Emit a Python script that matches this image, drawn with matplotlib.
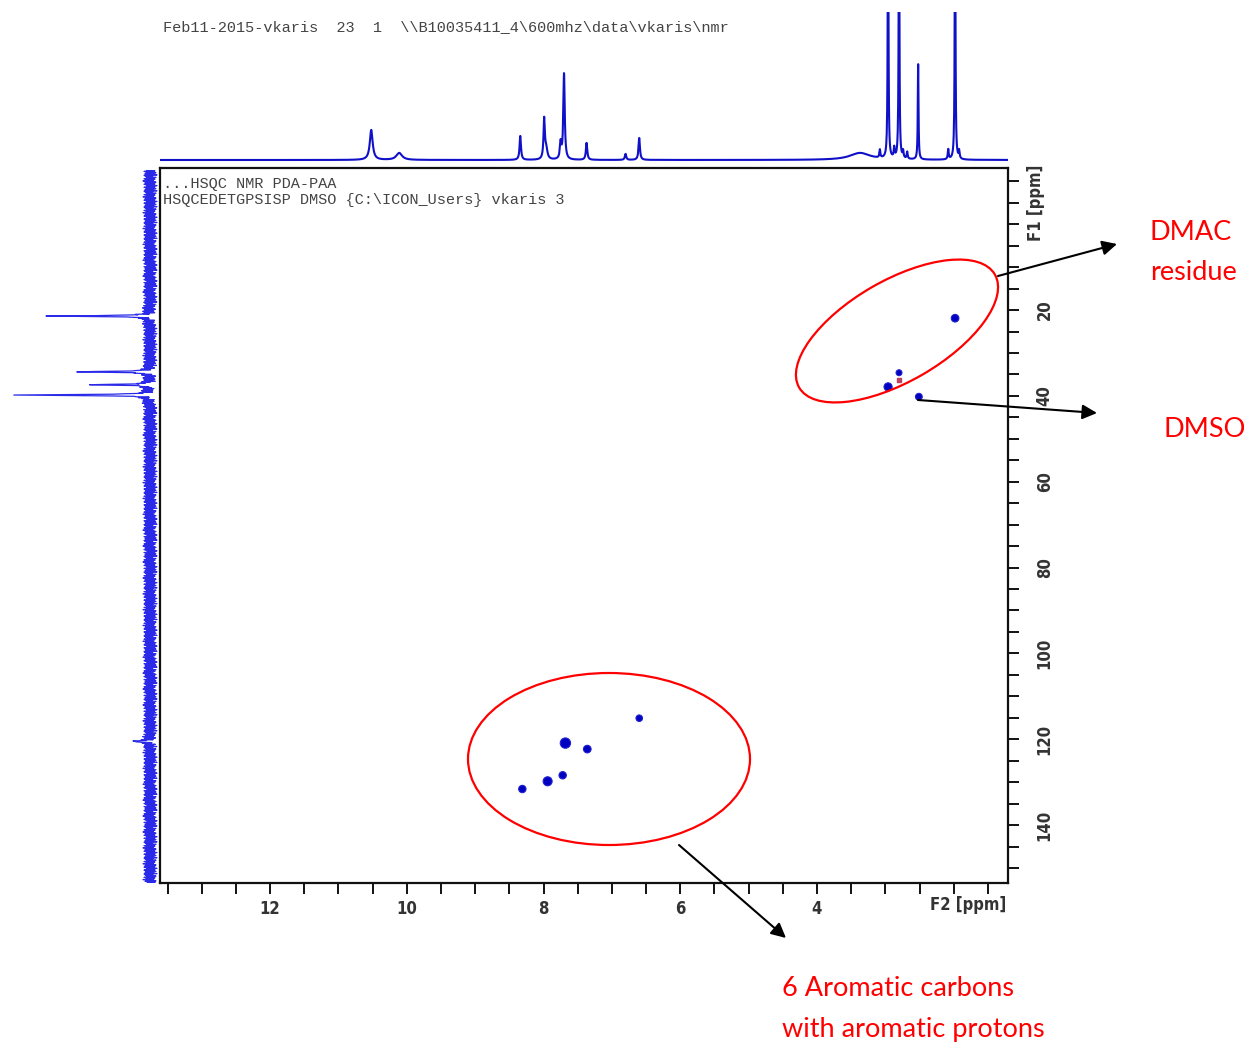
import numpy as np
import matplotlib
matplotlib.use("Agg")
import matplotlib.pyplot as plt
from matplotlib.patches import Ellipse, FancyArrowPatch
from matplotlib.ticker import MultipleLocator, FixedLocator

# ---------------- data ----------------
# 2D HSQC cross peaks (F2 1H ppm, F1 13C ppm)
blue_h = [1.98, 2.80, 2.96, 2.51, 6.60, 7.68, 7.36, 7.72, 7.94, 8.31]
blue_c = [21.9, 34.6, 37.9, 40.2, 115.1, 120.9, 122.3, 128.4, 129.8, 131.6]
blue_size = [30, 18, 34, 24, 22, 55, 30, 28, 42, 28]
red_h = [2.80]
red_c = [36.4]

# 1H projection (top): peak positions, heights, half-widths
h_pos = [10.52, 10.11, 8.34, 7.99, 7.96, 7.75, 7.70, 7.37, 6.80, 6.60,
         3.37, 3.08, 2.96, 2.87, 2.80, 2.74, 2.68, 2.52, 2.08, 1.98, 1.92]
h_height = [30, 7, 24, 40, 10, 16, 86, 17, 6, 22,
            7, 8, 300, 10, 300, 7, 7, 98, 10, 300, 8]
h_width = [0.025, 0.05, 0.012, 0.012, 0.02, 0.012, 0.012, 0.012, 0.012, 0.012,
           0.18, 0.008, 0.006, 0.008, 0.006, 0.008, 0.008, 0.006, 0.008, 0.006, 0.008]

# 13C projection (left): peak positions and heights
c_pos = [21.4, 34.4, 37.4, 39.8, 120.5]
c_height = [103, 77, 62, 142, 22]
noise_pattern = [3, -5, 6, -2, 4, -6, 1, 5, -4, 2, -7, 6, -3, 5, -1, 4, -6, 3,
                 -2, 6, -5, 1, 4, -3, 7, -4, 2, -6, 5, -1, 3, -5, 6, -2, 4, -7, 1]

x_ticks = [12, 10, 8, 6, 4, 2]
x_labels = ["12", "10", "8", "6", "4", ""]
y_ticks = [0, 20, 40, 60, 80, 100, 120, 140]
y_labels = ["", "20", "40", "60", "80", "100", "120", "140"]

header = r"Feb11-2015-vkaris  23  1  \\B10035411_4\600mhz\data\vkaris\nmr"
title1 = "...HSQC NMR PDA-PAA"
title2 = r"HSQCEDETGPSISP DMSO {C:\ICON_Users} vkaris 3"

# ---------------- layout ----------------
W, H = 1244, 1044
fig = plt.figure(figsize=(W / 100, H / 100), dpi=100)
fig.patch.set_facecolor("white")

def rect(l, t, r, b):
    return [l / W, 1 - b / H, (r - l) / W, (b - t) / H]

XL = (13.61, 1.206)
YL = (153.5, -13.1)
BLUE = "#1010c8"
FAM = ["DejaVu Sans"]
tick_font = dict(family=FAM, size=12, weight="bold", color="#333333",
                 stretch="condensed")

ax = fig.add_axes(rect(160, 168, 1008, 883))
ax.set_xlim(*XL)
ax.set_ylim(*YL)
for s in ax.spines.values():
    s.set_linewidth(1.6)
    s.set_color("#111111")

ax.scatter(blue_h, blue_c, s=blue_size, color="#0000c0", marker="o",
           edgecolors="#2020d0", linewidths=0.8, zorder=3)
ax.scatter(red_h, red_c, s=12, color="#c04060", marker="s", zorder=3)

ax.xaxis.set_major_locator(FixedLocator(x_ticks))
ax.set_xticklabels(x_labels, fontdict=tick_font)
ax.xaxis.set_minor_locator(MultipleLocator(0.5))
ax.tick_params(axis="x", which="both", direction="out", length=8, width=1.4,
               top=False, pad=4, colors="#111111")
ax.yaxis.tick_right()
ax.yaxis.set_major_locator(FixedLocator(y_ticks))
ax.set_yticklabels(y_labels, fontdict=tick_font, rotation=90, va="center")
ax.yaxis.set_minor_locator(MultipleLocator(5))
ax.tick_params(axis="y", which="both", direction="out", length=8, width=1.4,
               left=False, right=True, pad=12, colors="#111111")
for lab in ax.get_xticklabels() + ax.get_yticklabels():
    lab.set_color("#333333")

ax.text(0.004, 0.987, title1 + "\n" + title2, transform=ax.transAxes,
        family="Liberation Mono", fontsize=11, color="#444444",
        va="top", ha="left", linespacing=1.15)

fig.text(968 / W, 1 - 905 / H, "F2 [ppm]", ha="center", va="center",
         family=FAM, size=12, weight="bold", color="#333333", stretch="condensed")
fig.text(1036 / W, 1 - 203 / H, "F1 [ppm]", ha="center", va="center", rotation=90,
         family=FAM, size=12, weight="bold", color="#333333", stretch="condensed")

fig.text(163 / W, 1 - 27 / H, header, ha="left", va="center",
         family="Liberation Mono", fontsize=11, color="#444444")

# ---------------- top 1H projection ----------------
axt = fig.add_axes(rect(160, 12, 1008, 163))
axt.set_xlim(*XL)
axt.set_ylim(-3, 148)
axt.axis("off")
xh = np.linspace(XL[1], XL[0], 6000)
yh = np.zeros_like(xh)
for p, h, w in zip(h_pos, h_height, h_width):
    yh += h * w**2 / ((xh - p) ** 2 + w**2)
axt.plot(xh, yh, color=BLUE, lw=1.5)

# ---------------- left 13C projection ----------------
axl = fig.add_axes(rect(0, 168, 160, 883))
axl.set_ylim(*YL)
axl.set_xlim(150, -10)
axl.axis("off")
yc = np.arange(-12.5, 153.5, 0.1)
noise = np.resize(np.array(noise_pattern, float), yc.size)
xc = noise.copy()
for p, h in zip(c_pos, c_height):
    xc += h * 0.12**2 / ((yc - p) ** 2 + 0.12**2)
axl.plot(xc, yc, color="#2a2ae8", lw=0.9)

# ---------------- annotations ----------------
tr = fig.dpi_scale_trans

def P(x, y):
    return (x / 100, (H - y) / 100)

fig.add_artist(Ellipse(P(897, 331), 2.26, 1.01, angle=30, transform=tr,
                       fill=False, edgecolor="red", lw=1.6))
fig.add_artist(Ellipse(P(609, 759), 2.82, 1.72, angle=0, transform=tr,
                       fill=False, edgecolor="red", lw=1.6))

for a, b in [((998, 276), (1117, 244)), ((918, 400), (1097, 413)),
             ((679, 845), (786, 938))]:
    fig.add_artist(FancyArrowPatch(P(*a), P(*b), transform=tr,
                                   arrowstyle="-|>", mutation_scale=22,
                                   color="black", lw=1.5, shrinkA=0, shrinkB=0))

red_font = dict(family=["Lato", "DejaVu Sans"], fontsize=19.5, color="red",
                ha="left", va="center")
fig.text(1150 / W, 1 - 232 / H, "DMAC", **red_font)
fig.text(1150 / W, 1 - 273 / H, "residue", **red_font)
fig.text(1163 / W, 1 - 430 / H, "DMSO", **red_font)
fig.text(782 / W, 1 - 988 / H, "6 Aromatic carbons", **red_font)
fig.text(782 / W, 1 - 1030 / H, "with aromatic protons", **red_font)

fig.savefig("out.png", dpi=100)
